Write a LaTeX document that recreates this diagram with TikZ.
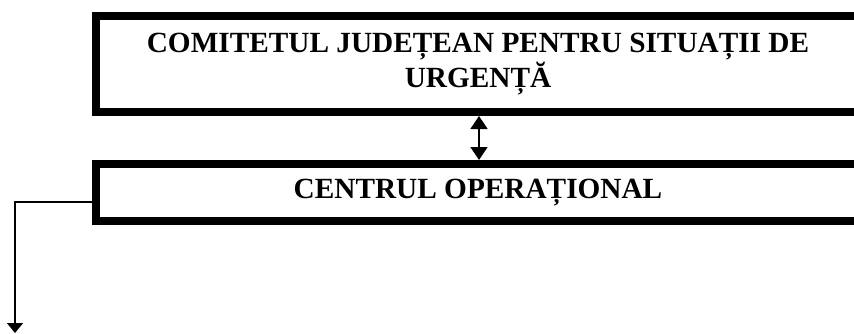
\documentclass[tikz,border=0pt]{standalone}
\usepackage{fontspec}
\setmainfont{Liberation Serif}
\usetikzlibrary{arrows.meta}

\begin{document}
\begin{tikzpicture}[x=0.3mm,y=-0.3mm,
    box/.style={draw,line width=2.4mm,minimum width=229.2mm,align=center,
        font=\bfseries\fontsize{25}{29.5}\selectfont},
    link/.style={line width=0.45mm,{Triangle[length=3.9mm,width=5.1mm]}-{Triangle[length=3.9mm,width=5.1mm]}}]
            \clip (0,0) rectangle (854,333);
            \node[box,minimum height=28.8mm] (cjsu) at (478,64) {COMITETUL JUDEȚEAN PENTRU SITUAȚII DE\\URGENȚĂ};
            \node[box,minimum height=17.1mm] (co) at (478,192.5) {CENTRUL OPERAȚIONAL};
            \coordinate (axa) at (479,0);
            \coordinate (jos) at (15,333);
            \draw[link] (cjsu.south -| axa) -- (co.north -| axa);
            \draw[line width=0.4mm,-{Triangle[length=3mm,width=4.8mm]}] ([yshift=-2.85mm]co.west) -| (jos);
        \end{tikzpicture}
\end{document}
